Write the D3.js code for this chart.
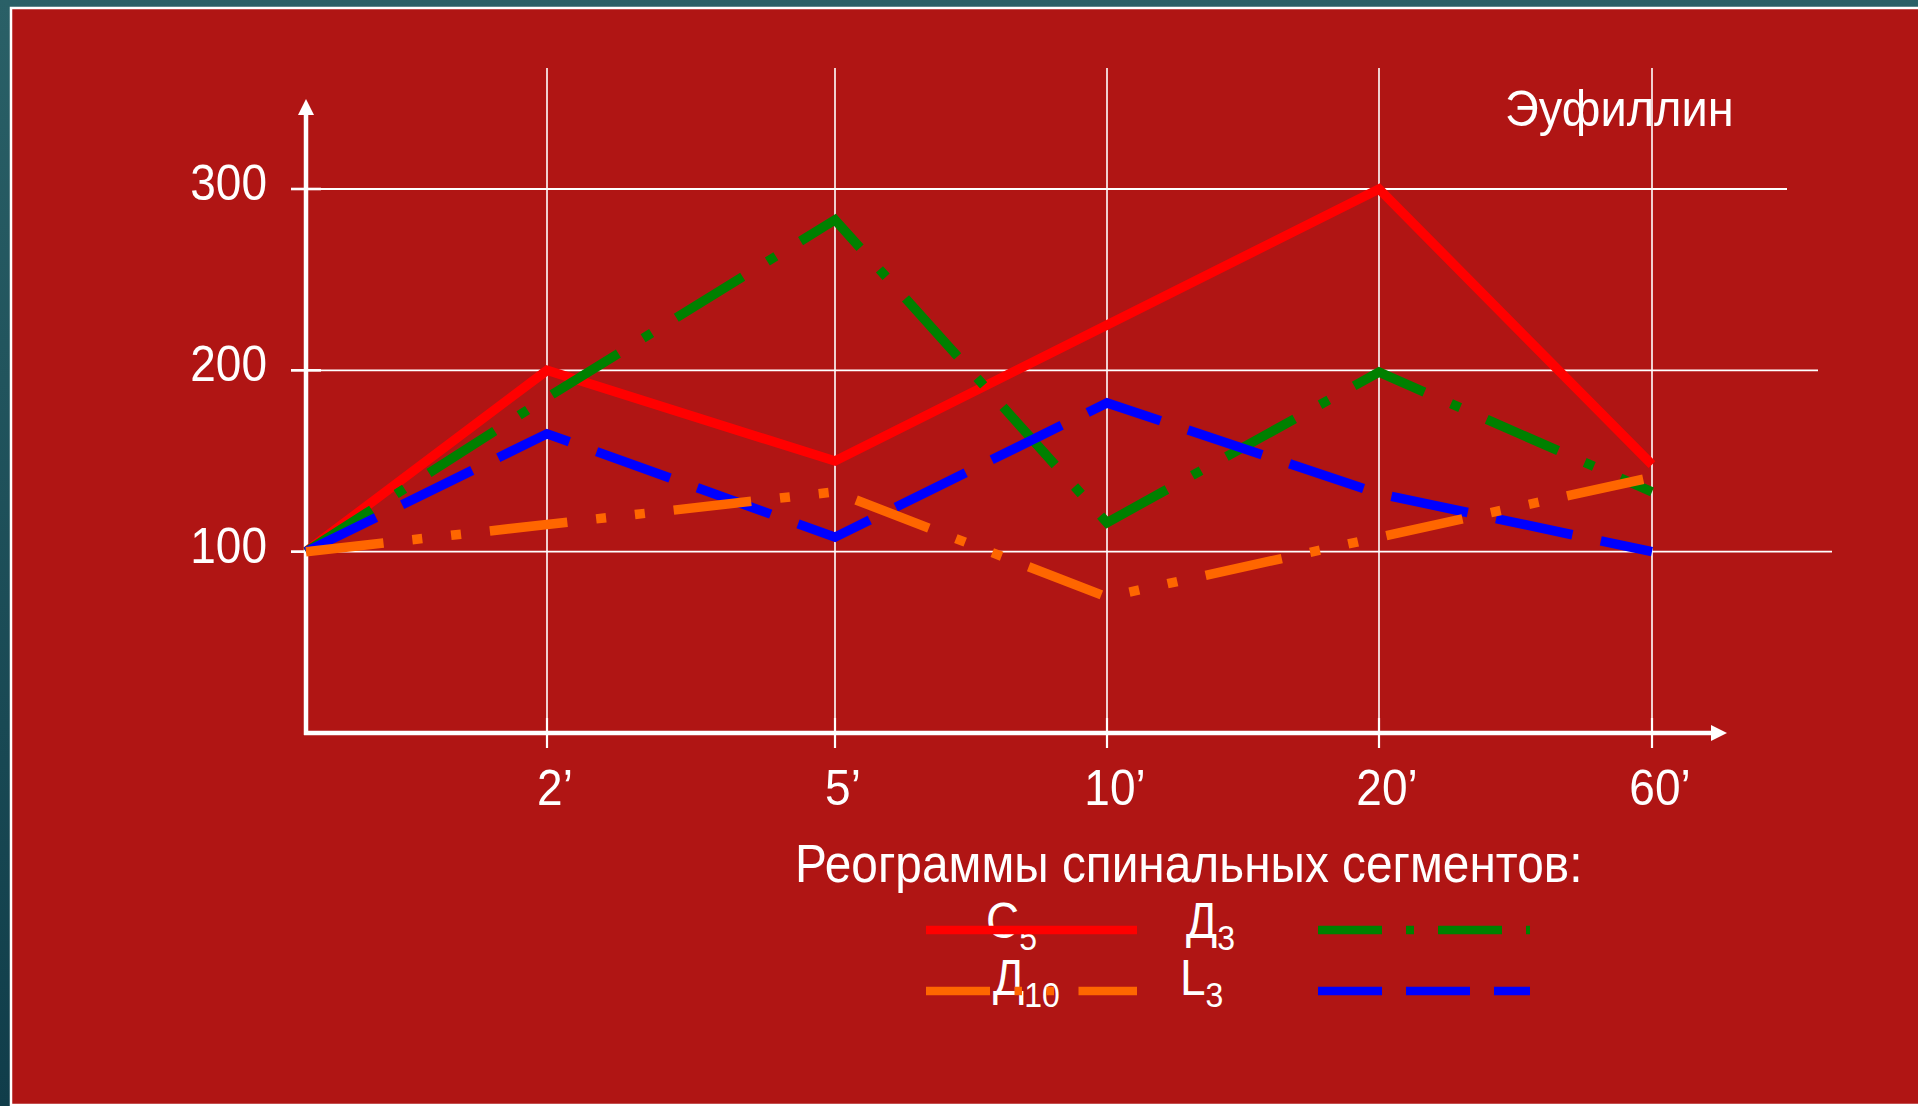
<!DOCTYPE html>
<html><head><meta charset="utf-8">
<script src="https://cdn.jsdelivr.net/npm/d3@7"></script>
<style>html,body{margin:0;padding:0;overflow:hidden;background:#1b5058}</style>
</head><body><svg id="c" width="1918" height="1106"></svg>
<script>
// ---------- data ----------
const categories = ["0", "2’", "5’", "10’", "20’", "60’"];
const tickLabels = ["", "2’", "5’", "10’", "20’", "60’"];
const yTicks = [100, 200, 300];
const c5  = [100, 200, 150, 225, 300, 148];
const d3s = [100, 185, 283, 116, 199, 133];
const d10 = [100, 115, 133, 75, 108, 141];
const l3  = [100, 165, 108, 182, 132, 100];
const seriesLetters = ["C", "Д", "Д", "L"];
const seriesSubs = ["5", "3", "10", "3"];
const titleText = "Эуфиллин";
const legendTitle = "Реограммы спинальных сегментов:";

// ---------- layout / style ----------
const W = 1918, H = 1106;
const X_POS = [306, 547, 835, 1107, 1379, 1652];
const Y0 = 733, Y300 = 189;
const GRID_END = {100: 1832, 200: 1818, 300: 1787};
const FONT = "'Liberation Sans', Arial, sans-serif";
const BG_RED = "#B01514";
const series = [
  {vals: c5,  color: "#FF0000", dash: null,                    ldash: null},
  {vals: d3s, color: "#008000", dash: "78,29,10,29",           ldash: "64,24,8,24"},
  {vals: d10, color: "#FF6600", dash: "78,29,10,29,10,29",     ldash: "64,24.5,7.5,24.5,7.5,24.5"},
  {vals: l3,  color: "#0000FF", dash: "78,29",                 ldash: "64,24"}
];
const drawOrder = [0, 1, 3, 2];
const legendLayout = [
  {lx: 986,  ly: 938, x1: 926,  x2: 1137, y: 930},
  {lx: 1186, ly: 938, x1: 1318, x2: 1530, y: 930},
  {lx: 993,  ly: 995, x1: 926,  x2: 1137, y: 991},
  {lx: 1180, ly: 995, x1: 1318, x2: 1530, y: 991}
];

const svg = d3.select("#c");
const defs = svg.append("defs");
const grad = defs.append("linearGradient").attr("id", "teal").attr("x1", 0).attr("y1", 0).attr("x2", 0).attr("y2", 1);
grad.append("stop").attr("offset", 0).attr("stop-color", "#2a6067");
grad.append("stop").attr("offset", 1).attr("stop-color", "#103d4a");
svg.append("rect").attr("width", W).attr("height", H).attr("fill", "url(#teal)");
svg.append("rect").attr("x", 11).attr("y", 8).attr("width", W + 20).attr("height", 1097)
  .attr("fill", BG_RED).attr("stroke", "#fff").attr("stroke-width", 2.5);

const x = d3.scaleOrdinal().domain(categories).range(X_POS);
const y = d3.scaleLinear().domain([0, 300]).range([Y0, Y300]);

function txt(g, px, py, s, size, anchor, sy) {
  return g.append("text").attr("transform", `translate(${px},${py}) scale(1,${sy || 1.1})`)
    .attr("text-anchor", anchor || "start").attr("font-size", size)
    .attr("font-family", FONT).attr("fill", "#fff").text(s);
}

// grid
const grid = svg.append("g");
yTicks.forEach(t => {
  grid.append("line").attr("x1", 291).attr("x2", GRID_END[t]).attr("y1", y(t)).attr("y2", y(t))
    .attr("stroke", "#fff").attr("stroke-width", 1.8);
  grid.append("line").attr("x1", 291).attr("x2", 321).attr("y1", y(t)).attr("y2", y(t))
    .attr("stroke", "#fff").attr("stroke-width", 2.6);
});
categories.slice(1).forEach(c => {
  grid.append("line").attr("x1", x(c)).attr("x2", x(c)).attr("y1", 68).attr("y2", 748)
    .attr("stroke", "#fff").attr("stroke-width", 1.6);
  grid.append("line").attr("x1", x(c)).attr("x2", x(c)).attr("y1", 718).attr("y2", 748)
    .attr("stroke", "#fff").attr("stroke-width", 2.2);
});

// axes
const ax = svg.append("g");
ax.append("line").attr("x1", x(categories[0])).attr("x2", x(categories[0])).attr("y1", Y0 + 2).attr("y2", 112)
  .attr("stroke", "#fff").attr("stroke-width", 4.5);
ax.append("path").attr("d", `M${x(categories[0])},99 L${x(categories[0]) - 8},115 L${x(categories[0]) + 8},115Z`).attr("fill", "#fff");
ax.append("line").attr("x1", x(categories[0]) - 2).attr("x2", 1713).attr("y1", Y0).attr("y2", Y0)
  .attr("stroke", "#fff").attr("stroke-width", 4.5);
ax.append("path").attr("d", `M1727,${Y0} L1711,${Y0 - 8} L1711,${Y0 + 8}Z`).attr("fill", "#fff");

// tick labels
const labels = svg.append("g");
yTicks.forEach(t => txt(labels, 267, y(t) + 11, String(t), 46, "end"));
categories.forEach((c, i) => { if (tickLabels[i]) txt(labels, x(c) + 8, 805, tickLabels[i], 46, "middle"); });
txt(labels, 1505, 126, titleText, 47, "start", 1.05);

// series
const line = d3.line().x((d, i) => x(categories[i])).y(d => y(d));
const lines = svg.append("g");
drawOrder.forEach(k => {
  const s = series[k];
  lines.append("path").attr("d", line(s.vals)).attr("fill", "none")
    .attr("stroke", s.color).attr("stroke-width", 9.5).attr("stroke-linejoin", "miter")
    .attr("stroke-linecap", "butt").attr("stroke-dasharray", s.dash);
});

// legend
const lg = svg.append("g");
txt(lg, 795, 882, legendTitle, 47.8, "start", 1.14);
series.forEach((s, k) => {
  const L = legendLayout[k];
  const t = lg.append("text").attr("transform", `translate(${L.lx},${L.ly}) scale(1,1.07)`)
    .attr("font-family", FONT).attr("fill", "#fff").attr("font-size", 46);
  t.append("tspan").text(seriesLetters[k]);
  t.append("tspan").attr("font-size", 32).attr("dy", 11).text(seriesSubs[k]);
});
series.forEach((s, k) => {
  const L = legendLayout[k];
  lg.append("line").attr("x1", L.x1).attr("x2", L.x2).attr("y1", L.y).attr("y2", L.y)
    .attr("stroke", s.color).attr("stroke-width", 8.3).attr("stroke-dasharray", s.ldash);
});
</script></body></html>
